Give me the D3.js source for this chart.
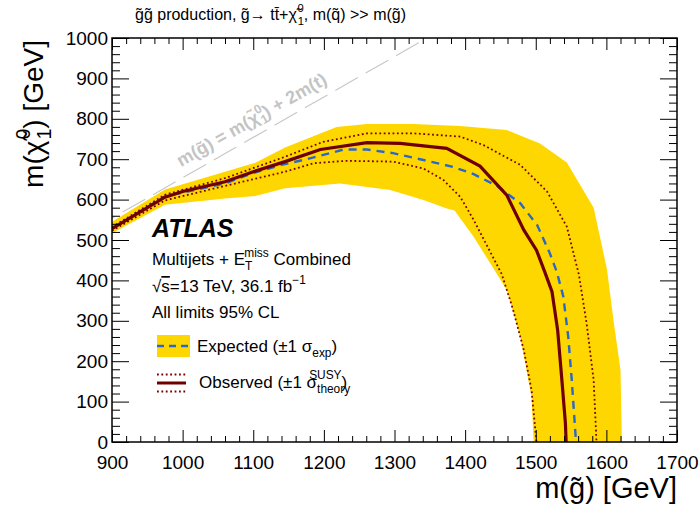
<!DOCTYPE html>
<html>
<head>
<meta charset="utf-8">
<script src="https://cdn.jsdelivr.net/npm/d3@7"></script>
<style>
  body { margin: 0; background: #fff; }
  text { font-family: "Liberation Sans", Arial, Helvetica, sans-serif; }
</style>
</head>
<body>
<div id="chart"></div>
<script>
// contours in (m(gluino), m(neutralino)) GeV
var bandUpper = [[900,545],[975,625],[1060,669],[1103,691],[1145,729],[1218,780],[1261,787],[1327,787],[1393,782],[1459,772],[1506,739],[1544,692],[1582,580],[1601,426],[1610,302],[1620,178],[1622,0]]
var bandLower = [[900,517],[975,587],[1060,603],[1103,609],[1145,628],[1223,640],[1294,624],[1341,599],[1374,578],[1385,573],[1412,508],[1440,430],[1459,376],[1478,261],[1494,112],[1497,0]]
var expected = [[900,528],[975,608],[1060,640],[1098,665],[1140,686],[1176,700],[1228,724],[1261,724],[1298,715],[1341,698],[1383,681],[1412,663],[1445,634],[1478,591],[1502,537],[1520,467],[1530,420],[1539,360],[1546,261],[1551,153],[1557,0]]
var observed = [[900,528],[975,606],[1000,620],[1060,644],[1100,669],[1145,694],[1195,724],[1261,741],[1308,739],[1374,727],[1421,683],[1459,611],[1483,525],[1501,475],[1513,420],[1523,372],[1531,277],[1537,153],[1542,46],[1543,0]]
var obsUp = [[900,532],[975,612],[1060,653],[1145,706],[1199,743],[1261,764],[1327,764],[1393,756],[1426,735],[1478,686],[1516,620],[1544,533],[1561,415],[1572,294],[1582,153],[1586,0]]
var obsDown = [[900,523],[975,598],[1060,634],[1145,669],[1185,690],[1232,696],[1298,694],[1341,677],[1369,649],[1393,607],[1412,550],[1452,415],[1468,327],[1483,228],[1494,129],[1501,0]]
var topMass = 173

var xTicks = [900,1000,1100,1200,1300,1400,1500,1600,1700]
var yTicks = [0,100,200,300,400,500,600,700,800,900,1000]

var width = 699, height = 513
var pL = 112, pR = 677, pT = 38, pB = 442

var svg = d3.select("#chart").append("svg")
	.attr("width", width)
	.attr("height", height)

var x = d3.scaleLinear().domain([900,1700]).range([pL,pR])
var y = d3.scaleLinear().domain([0,1000]).range([pB,pT])

svg.append("clipPath").attr("id","plotclip")
	.append("rect").attr("x",pL).attr("y",pT).attr("width",pR-pL).attr("height",pB-pT)

var plot = svg.append("g").attr("clip-path","url(#plotclip)")
var line = d3.line().x(function(d){return x(d[0])}).y(function(d){return y(d[1])})

// kinematic limit
plot.append("path")
	.attr("d", line([[700,700-2*topMass],[1700,1700-2*topMass]]))
	.attr("stroke","#c8c8c8").attr("stroke-width",1.2).attr("fill","none")
	.attr("stroke-dasharray","26,9")

plot.append("path")
	.attr("d", line(bandUpper.concat(bandLower.slice().reverse())) + "Z")
	.attr("fill","#ffd700").attr("stroke","none")

plot.append("path").attr("d", line(expected))
	.attr("fill","none").attr("stroke","#2b67c9").attr("stroke-width",2.4).attr("stroke-dasharray","8,6")

;[obsUp, obsDown].forEach(function(c){
	plot.append("path").attr("d", line(c))
		.attr("fill","none").attr("stroke","#7a0000").attr("stroke-width",1.8).attr("stroke-dasharray","1.8,2.6")
})

plot.append("path").attr("d", line(observed))
	.attr("fill","none").attr("stroke","#6e0000").attr("stroke-width",3.2)

// axes, ROOT style with inward ticks on all sides
var xMinor = d3.range(900,1701,20).filter(function(v){return xTicks.indexOf(v) < 0})
var yMinor = d3.range(0,1001,20).filter(function(v){return yTicks.indexOf(v) < 0})

function styleAxis(g){
	g.select(".domain").remove()
	g.selectAll(".tick line").attr("stroke","#000").attr("stroke-width",1)
	g.selectAll("text").attr("font-size",19).attr("fill","#000")
		.style("font-family","'Liberation Sans', Arial, Helvetica, sans-serif")
}

svg.append("g").attr("transform","translate(0,"+pB+")")
	.call(d3.axisBottom(x).tickValues(xTicks).tickSizeInner(-12).tickSizeOuter(0).tickPadding(14).tickFormat(d3.format("d")))
	.call(styleAxis)
svg.append("g").attr("transform","translate(0,"+pB+")")
	.call(d3.axisBottom(x).tickValues(xMinor).tickSizeInner(-6).tickSizeOuter(0).tickFormat(""))
	.call(styleAxis)
svg.append("g").attr("transform","translate(0,"+pT+")")
	.call(d3.axisTop(x).tickValues(xTicks).tickSizeInner(-12).tickSizeOuter(0).tickFormat(""))
	.call(styleAxis)
svg.append("g").attr("transform","translate(0,"+pT+")")
	.call(d3.axisTop(x).tickValues(xMinor).tickSizeInner(-6).tickSizeOuter(0).tickFormat(""))
	.call(styleAxis)

svg.append("g").attr("transform","translate("+pL+",0)")
	.call(d3.axisLeft(y).tickValues(yTicks).tickSizeInner(-17).tickSizeOuter(0).tickPadding(4).tickFormat(d3.format("d")))
	.call(styleAxis)
svg.append("g").attr("transform","translate("+pL+",0)")
	.call(d3.axisLeft(y).tickValues(yMinor).tickSizeInner(-8).tickSizeOuter(0).tickFormat(""))
	.call(styleAxis)
svg.append("g").attr("transform","translate("+pR+",0)")
	.call(d3.axisRight(y).tickValues(yTicks).tickSizeInner(-17).tickSizeOuter(0).tickFormat(""))
	.call(styleAxis)
svg.append("g").attr("transform","translate("+pR+",0)")
	.call(d3.axisRight(y).tickValues(yMinor).tickSizeInner(-8).tickSizeOuter(0).tickFormat(""))
	.call(styleAxis)

svg.append("rect").attr("x",pL).attr("y",pT).attr("width",pR-pL).attr("height",pB-pT)
	.attr("fill","none").attr("stroke","#000").attr("stroke-width",1.5)

// helper for text with sub/superscripts: parts = [string, kind, dx, dy]
function rich(sel, parts, fs){
	parts.forEach(function(p){
		var t = sel.append("tspan").text(p[0])
		if (p[1] == "sub") t.attr("font-size",fs*0.7).attr("dy",fs*0.3)
		else if (p[1] == "sup") t.attr("font-size",fs*0.7).attr("dy",-fs*0.45)
		else if (p[1] == "over") t.attr("text-decoration","overline")
		if (p.length > 2) t.attr("dx",p[2])
		if (p.length > 3) t.attr("dy",p[3])
	})
	return sel
}

// titles
var t1 = svg.append("text").attr("x",135).attr("y",20).attr("font-size",16)
rich(t1, [["g\u0303g\u0303 production, g\u0303\u2192 tt\u0304+\u03C7\u0303"],["1","sub",1,4.8],["0","sup",-6.5,-13],[", m(q\u0303) >> m(g\u0303)","",0,8.2]], 16)

svg.append("text").attr("x",pR).attr("y",498).attr("text-anchor","end").attr("font-size",29)
	.text("m(g\u0303) [GeV]")

var yt = svg.append("text").attr("transform","translate(43,"+(pT+2)+") rotate(-90)").attr("text-anchor","end").attr("font-size",28)
rich(yt, [["m(\u03C7\u0303"],["1","sub",1,8],["0","sup",-11,-21],[") [GeV]","",0,13]], 28)

// kinematic limit label
svg.append("text").attr("transform","translate(181,167) rotate(-29.7)")
	.attr("font-size",18).attr("font-weight","bold").attr("fill","#c4c4c4")
	.call(function(s){ rich(s, [["m(g\u0303) = m(\u03C7\u0303"],["1","sub",1,4],["0","sup",-8,-12],[") + 2m(t)","",0,8]], 18) })

svg.append("text").attr("x",152).attr("y",237).attr("font-size",25)
	.attr("font-weight","bold").attr("font-style","italic").text("ATLAS")

var l1 = svg.append("text").attr("x",152).attr("y",265).attr("font-size",17)
rich(l1, [["Multijets + E"],["T","sub",0,5],["miss","sup",-8,-13],[" Combined","",0,8]], 17)
var l2 = svg.append("text").attr("x",152).attr("y",292).attr("font-size",17)
rich(l2, [["\u221A"],["s","over"],["=13 TeV, 36.1 fb"],["\u22121","sup"]], 17)
svg.append("text").attr("x",152).attr("y",318).attr("font-size",17).text("All limits 95% CL")

// legend
svg.append("rect").attr("x",157).attr("y",335).attr("width",33).attr("height",22).attr("fill","#ffd700")
svg.append("line").attr("x1",157).attr("x2",190).attr("y1",346).attr("y2",346)
	.attr("stroke","#2b67c9").attr("stroke-width",2.4).attr("stroke-dasharray","7,5")
var le = svg.append("text").attr("x",197).attr("y",352).attr("font-size",17)
rich(le, [["Expected (\u00B11 \u03C3"],["exp","sub"],[")","",0,-5]], 17)

;[374.5, 391.5].forEach(function(yy){
	svg.append("line").attr("x1",157).attr("x2",186).attr("y1",yy).attr("y2",yy)
		.attr("stroke","#7a0000").attr("stroke-width",1.8).attr("stroke-dasharray","1.8,2.6")
})
svg.append("line").attr("x1",157).attr("x2",186).attr("y1",383).attr("y2",383)
	.attr("stroke","#6e0000").attr("stroke-width",3)
var lo = svg.append("text").attr("x",199).attr("y",388).attr("font-size",17)
rich(lo, [["Observed (\u00B11 \u03C3"],["theory","sub",0,5],["SUSY","sup",-41,-14],[")","",0,9]], 17)
</script>
</body>
</html>
